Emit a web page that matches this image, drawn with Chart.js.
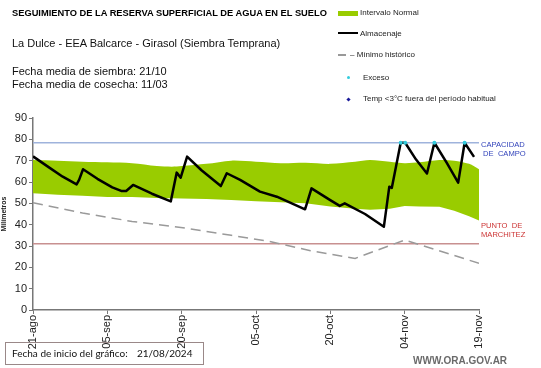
<!DOCTYPE html>
<html>
<head>
<meta charset="utf-8">
<script src="https://cdn.jsdelivr.net/npm/chart.js@4/dist/chart.umd.min.js"></script>
<style>
  html, body { margin: 0; padding: 0; background: #fff; }
  #wrap { position: relative; width: 541px; height: 368px; overflow: hidden; font-family: "Liberation Sans", Arial, sans-serif; }
  #chart { position: absolute; left: 0; top: 0; }
  .t { position: absolute; white-space: nowrap; color: #000; }
  .leg { position: absolute; white-space: nowrap; font-size: 8px; color: #222; }
</style>
</head>
<body>
<div id="wrap">
  <canvas id="chart" width="541" height="368"></canvas>

  <div class="t" style="left:12px;top:8px;font-size:9.3px;font-weight:bold;">SEGUIMIENTO DE LA RESERVA SUPERFICIAL DE AGUA EN EL SUELO</div>
  <div class="t" style="left:12px;top:37px;font-size:11px;color:#111;">La Dulce - EEA Balcarce - Girasol (Siembra Temprana)</div>
  <div class="t" style="left:12px;top:65px;font-size:11px;color:#111;line-height:13px;">Fecha media de siembra: 21/10<br>Fecha media de cosecha: 11/03</div>

  <!-- leyenda -->
  <div style="position:absolute;left:338px;top:11px;width:20px;height:5px;background:#99cc00;"></div>
  <div class="leg" style="left:360px;top:8px;">Intervalo Normal</div>
  <div style="position:absolute;left:338px;top:32px;width:20px;height:2px;background:#000;"></div>
  <div class="leg" style="left:360px;top:29px;">Almacenaje</div>
  <div style="position:absolute;left:338px;top:54px;width:8px;height:1.5px;background:#999;"></div>
  <div class="leg" style="left:350px;top:50px;">– Mínimo histórico</div>
  <div style="position:absolute;left:347px;top:76px;width:3px;height:3px;border-radius:2px;background:#33ccdd;"></div>
  <div class="leg" style="left:363px;top:73px;">Exceso</div>
  <div style="position:absolute;left:346.5px;top:97.5px;width:3px;height:3px;background:#1a1a99;transform:rotate(45deg);"></div>
  <div class="leg" style="left:363px;top:94px;">Temp &lt;3°C fuera del período habitual</div>

  <!-- referencias de nivel -->
  <div class="t" style="left:481px;top:140px;font-size:7.6px;color:#3344bb;line-height:9px;">CAPACIDAD<br>&nbsp;DE&nbsp; CAMPO</div>
  <div class="t" style="left:481px;top:221px;font-size:7.6px;color:#cc3333;line-height:9px;">PUNTO&nbsp; DE<br>MARCHITEZ</div>

  <div style="position:absolute;left:5px;top:342px;width:199px;height:23px;border:1px solid #9a8888;box-sizing:border-box;"></div>
  <div class="t" style="left:12px;top:347px;font-size:10px;font-family:Lato,'Open Sans',sans-serif;color:#111;">Fecha de inicio del gráfico:</div>
  <div class="t" style="left:137px;top:347px;font-size:10px;font-family:Lato,'Open Sans',sans-serif;color:#111;">21/08/2024</div>
  <div class="t" style="left:413px;top:355px;font-size:10px;font-weight:bold;color:#6a6a6a;">WWW.ORA.GOV.AR</div>
</div>

<script>
// ─── datos (día desde 21/08/2024, valores en mm) ─────────────
const tickLabels = ['21-ago', '05-sep', '20-sep', '05-oct', '20-oct', '04-nov', '19-nov'];

const normalDias   = [0, 5, 10, 15, 20, 25, 28, 30, 35, 40, 45, 50, 55, 60, 65, 68, 72, 75, 78, 82, 85, 88, 90];
const normalSup    = [70.3, 70, 69.5, 69.2, 68.8, 67.5, 67.2, 67.5, 68.5, 70, 69.5, 68.8, 69, 68.5, 69.5, 70.3, 69.5, 68.8, 69.2, 70.3, 70, 68.5, 66];
const normalInf    = [54.7, 54, 53.5, 53, 53, 52.5, 52.4, 52.3, 52, 51.6, 51, 50.5, 50, 48.5, 47.5, 47, 47.5, 48.8, 48.5, 48.4, 46.5, 44, 42];

const almDias    = [0, 3, 6, 8.8, 9.3, 10.1, 13, 16, 17.8, 18.8, 20.2, 24, 27.8, 29, 29.8, 31.1, 34, 37.9, 39.1, 41.8, 45.8, 49.2, 54.9, 56.2, 59.9, 61.9, 62.9, 67, 70.8, 71.9, 72.4, 74.2, 75.1, 77.3, 79.5, 81, 83.5, 85.8, 87.1, 89];
const almValores = [72, 67.2, 62.5, 58.9, 61, 66, 61.5, 57.5, 55.8, 55.8, 58.6, 54.5, 50.9, 64.4, 62, 71.9, 65.5, 58.1, 64.1, 61, 55.5, 53.1, 47.2, 57, 51.6, 48.8, 50, 45, 39, 57.8, 57.2, 78.4, 78.4, 70.5, 64, 78.4, 69, 59.7, 78.4, 71.8];

const minDias    = [0, 10, 20, 31, 40, 48, 56, 65, 75, 90];
const minValores = [50.3, 45.5, 41.5, 38.3, 35, 32, 27.8, 24.2, 32.8, 21.9];

const excesoDias    = [74.2, 75.1, 81, 87.1];
const excesoValores = [78.4, 78.4, 78.4, 78.4];

const capacidadCampo = 78.4;
const puntoMarchitez = 31;
const diasTotales = 90;

const pts = (xs, ys) => xs.map((x, i) => ({ x, y: ys[i] }));

const ctx = document.getElementById('chart');
new Chart(ctx, {
  type: 'line',
  data: {
    datasets: [
      { // límite inferior del intervalo normal
        data: pts(normalDias, normalInf),
        borderWidth: 0, pointRadius: 0, fill: false, order: 5,
      },
      {
        label: 'Intervalo Normal',
        data: pts(normalDias, normalSup),
        borderWidth: 0, pointRadius: 0, fill: '-1',
        backgroundColor: '#99cc00', tension: 0.3, order: 4,
      },
      {
        label: 'Capacidad de campo',
        data: pts([0, diasTotales], [capacidadCampo, capacidadCampo]),
        borderColor: '#9fb3dc', borderWidth: 1.5, pointRadius: 0, order: 3,
      },
      {
        label: 'Punto de marchitez',
        data: pts([0, diasTotales], [puntoMarchitez, puntoMarchitez]),
        borderColor: '#c89090', borderWidth: 1.5, pointRadius: 0, order: 3,
      },
      {
        label: 'Mínimo histórico',
        data: pts(minDias, minValores),
        borderColor: '#9a9a9a', borderWidth: 1.5, borderDash: [10, 6],
        pointRadius: 0, order: 2,
      },
      {
        label: 'Almacenaje',
        data: pts(almDias, almValores),
        borderColor: '#000', borderWidth: 2.5, pointRadius: 0,
        borderJoinStyle: 'round', order: 1,
      },
      {
        label: 'Exceso',
        data: pts(excesoDias, excesoValores),
        showLine: false, pointRadius: 2, pointBorderWidth: 0,
        pointBackgroundColor: '#33ccdd', order: 0,
      },
    ],
  },
  options: {
    responsive: false,
    animation: false,
    layout: { padding: { top: 118, right: 62, bottom: 18, left: 0 } },
    plugins: { legend: { display: false }, tooltip: { enabled: false } },
    elements: { line: { tension: 0 } },
    scales: {
      x: {
        type: 'linear', min: 0, max: diasTotales,
        afterFit: s => { s.height = 40; },
        border: { color: '#777', width: 1.5 },
        grid: { drawOnChartArea: false, drawTicks: true, tickLength: 4, color: '#777' },
        ticks: {
          stepSize: 15, minRotation: 90, maxRotation: 90, padding: 1,
          color: '#222', font: { family: "'Liberation Sans', Arial", size: 11 },
          callback: v => tickLabels[v / 15],
        },
      },
      y: {
        min: 0, max: 90,
        afterFit: s => { s.width = 33; },
        border: { color: '#777', width: 1.5 },
        grid: { drawOnChartArea: false, drawTicks: true, tickLength: 4, color: '#777' },
        ticks: {
          stepSize: 10, padding: 2,
          color: '#222', font: { family: "'Liberation Sans', Arial", size: 11 },
        },
        title: {
          display: true, text: 'Milímetros', padding: 0,
          color: '#222', font: { family: "'Liberation Sans', Arial", size: 7, weight: 'bold' },
        },
      },
    },
  },
});
</script>
</body>
</html>
